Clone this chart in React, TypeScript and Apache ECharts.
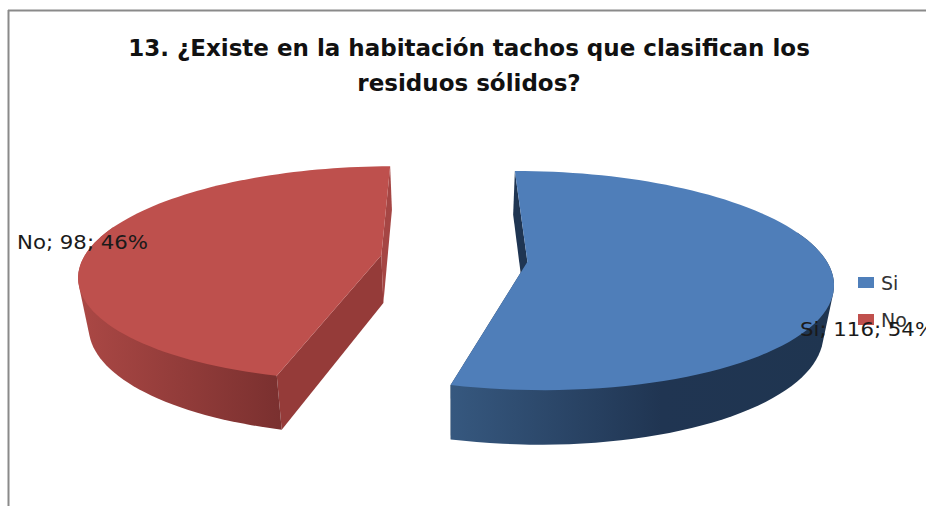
import React, { useEffect, useRef } from "react";
import * as echarts from "echarts";

const TITLE = "13. ¿Existe en la habitación tachos que clasifican los\nresiduos sólidos?";
const SERIES_NAMES = ["Si", "No"];
const SERIES_VALUES = [116, 98];
const TOP_COLORS = ["#4f7eb9", "#be504d"];
const LEGEND_COLORS = ["#4f7fba", "#c0504d"];
const CUT_COLORS = [
  { start: "#1f3552", end: "#1f3552" },
  { start: "#953b39", end: "#a54644" },
];
const WALL_STOPS = [
  [[0, "#36587f"], [0.55, "#203552"], [1, "#1f3550"]],
  [[0, "#ab4845"], [1, "#7a302f"]],
];

// Perspective camera of the tilted pie
const VIEW = { cx: 454, cy: 258.5, rx: 298, ry: 105.2, tilt: 0.171, depth: 48, floorScale: 0.972 };
const EXPLODE = 0.247;
const FIRST_ANGLE = -0.4;
const STEPS = 90;
const BACK_FACING = -0.3;

const TOTAL = SERIES_VALUES.reduce((a, b) => a + b, 0);

function project(u: number, v: number, floor: boolean): number[] {
  const w = 1 - VIEW.tilt * v;
  const s = floor ? VIEW.floorScale : 1;
  const d = floor ? VIEW.depth : 0;
  return [VIEW.cx + (VIEW.rx * u * s) / w, VIEW.cy + (VIEW.ry * v * s + d) / w];
}

// Outline of the wall: top and floor rims wrapped together, which gives the
// straight silhouette edges where the wall turns away at the sides.
function convexHull(points: number[][]): number[][] {
  const pts = points.slice().sort((a, b) => a[0] - b[0] || a[1] - b[1]);
  const cross = (o: number[], a: number[], b: number[]) =>
    (a[0] - o[0]) * (b[1] - o[1]) - (a[1] - o[1]) * (b[0] - o[0]);
  const half = (list: number[][]) => {
    const out: number[][] = [];
    for (const p of list) {
      while (out.length > 1 && cross(out[out.length - 2], out[out.length - 1], p) <= 0) out.pop();
      out.push(p);
    }
    out.pop();
    return out;
  };
  return [...half(pts), ...half(pts.slice().reverse())];
}

function sliceStart(index: number): number {
  let before = 0;
  for (let i = 0; i < index; i++) before += SERIES_VALUES[i];
  return FIRST_ANGLE + (before / TOTAL) * 360;
}

function renderSlice(index: number, value: number) {
  const from = sliceStart(index);
  const to = from + (value / TOTAL) * 360;
  const mid = (((from + to) / 2) * Math.PI) / 180;
  const ox = EXPLODE * Math.sin(mid);
  const oy = -EXPLODE * Math.cos(mid);
  const angleAt = (i: number) => ((from + ((to - from) * i) / STEPS) * Math.PI) / 180;

  const rim = (floor: boolean) => {
    const pts: number[][] = [];
    for (let i = 0; i <= STEPS; i++) {
      const a = angleAt(i);
      pts.push(project(ox + Math.sin(a), oy - Math.cos(a), floor));
    }
    return pts;
  };
  const top = rim(false);
  const bottom = rim(true);
  const apexTop = project(ox, oy, false);
  const apexBottom = project(ox, oy, true);

  const poly = (points: number[][], fill: any) => ({
    type: "polygon",
    shape: { points },
    style: { fill, stroke: null },
  });

  // Only the part of the wall turned towards the viewer is drawn
  const visible: number[][] = [];
  for (let i = 0; i <= STEPS; i++) {
    if (-Math.cos(angleAt(i)) >= BACK_FACING) visible.push(top[i], bottom[i]);
  }
  const wallFill = new echarts.graphic.LinearGradient(
    0, 0, 1, 0,
    WALL_STOPS[index].map(([offset, color]) => ({ offset: offset as number, color: color as string }))
  );

  // Back to front: the two cut faces, the curved wall, then the top face
  return {
    type: "group",
    children: [
      poly([top[0], bottom[0], apexBottom, apexTop], CUT_COLORS[index].start),
      poly([top[STEPS], bottom[STEPS], apexBottom, apexTop], CUT_COLORS[index].end),
      poly(convexHull(visible), wallFill),
      poly([apexTop, ...top], TOP_COLORS[index]),
    ],
  };
}

const labelText = (i: number) =>
  `${SERIES_NAMES[i]}; ${SERIES_VALUES[i]}; ${Math.round((SERIES_VALUES[i] / TOTAL) * 100)}%`;

export default function App() {
  const ref = useRef<HTMLDivElement>(null);

  useEffect(() => {
    const chart = echarts.init(ref.current!, null, { renderer: "svg" });
    chart.setOption({
      animation: false,
      backgroundColor: "#ffffff",
      title: {
        text: TITLE,
        left: 464,
        top: 25,
        textAlign: "center",
        textStyle: {
          fontFamily: "DejaVu Sans",
          fontWeight: 700,
          fontSize: 23,
          lineHeight: 35,
          color: "#111111",
        },
      },
      legend: {
        orient: "vertical",
        left: 858,
        top: 272,
        padding: 0,
        itemWidth: 16,
        itemHeight: 11,
        itemGap: 16,
        icon: "rect",
        data: SERIES_NAMES,
        textStyle: { fontFamily: "DejaVu Sans", fontSize: 19, color: "#333333", lineHeight: 21, padding: [0, 0, 0, 2] },
      },
      series: SERIES_NAMES.map((name, i) => ({
        type: "custom",
        name,
        coordinateSystem: "none",
        silent: true,
        itemStyle: { color: LEGEND_COLORS[i] },
        data: [[SERIES_VALUES[i]]],
        renderItem: (_params: any, api: any) => renderSlice(i, api.value(0)),
      })),
      graphic: [
        { type: "line", shape: { x1: 8.5, y1: 10, x2: 8.5, y2: 506 }, style: { stroke: "#8a8a8a", lineWidth: 2 }, silent: true },
        { type: "line", shape: { x1: 8, y1: 10.5, x2: 926, y2: 10.5 }, style: { stroke: "#8a8a8a", lineWidth: 2 }, silent: true },
        {
          type: "text", x: 17, y: 252, scaleX: 1.12, z: 100, silent: true,
          style: { text: labelText(1), font: '19px "DejaVu Sans"', fill: "#1a1a1a", textBaseline: "bottom", textVerticalAlign: "bottom" },
        },
        {
          type: "text", x: 800, y: 339, scaleX: 1.12, z: 100, silent: true,
          style: { text: labelText(0), font: '19px "DejaVu Sans"', fill: "#1a1a1a", textBaseline: "bottom", textVerticalAlign: "bottom" },
        },
      ],
    });
    return () => chart.dispose();
  }, []);

  return <div ref={ref} style={{ position: "absolute", left: 0, top: 0, width: 926, height: 506, overflow: "hidden" }} />;
}
